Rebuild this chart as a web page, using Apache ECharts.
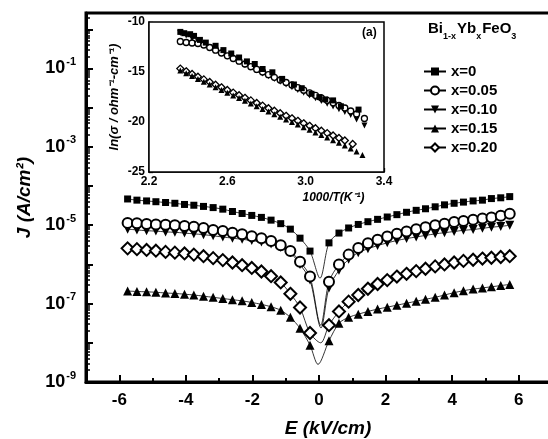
<!DOCTYPE html>
<html>
<head>
<meta charset="utf-8">
<script src="https://cdn.jsdelivr.net/npm/echarts@6/dist/echarts.min.js"></script>
<style>
  html, body { margin: 0; padding: 0; background: #fff; }
  #chart { width: 548px; height: 439px; }
</style>
</head>
<body>
<div id="chart"></div>
<script>
// field values (kV/cm), left and right branch
var eLeft = [-5.75, -5.47, -5.18, -4.9, -4.61, -4.33, -4.04, -3.76, -3.47, -3.18, -2.89, -2.6, -2.31, -2.02, -1.73, -1.44, -1.15, -0.86, -0.57, -0.27];
var eRight = [0.3, 0.6, 0.89, 1.18, 1.47, 1.76, 2.05, 2.34, 2.63, 2.92, 3.2, 3.49, 3.77, 4.06, 4.34, 4.63, 4.91, 5.18, 5.46, 5.73];

// log10 J, left branch / right branch / fit minimum [E, log10 J]
var x0Left = [-4.33, -4.36, -4.38, -4.40, -4.42, -4.44, -4.47, -4.49, -4.52, -4.55, -4.59, -4.65, -4.70, -4.75, -4.80, -4.87, -4.96, -5.10, -5.33, -5.66];
var x0Right = [-5.45, -5.2, -5.07, -4.98, -4.91, -4.85, -4.79, -4.73, -4.67, -4.62, -4.58, -4.53, -4.48, -4.44, -4.41, -4.38, -4.36, -4.32, -4.30, -4.27];
var x0Min = [0.03, -6.35];

var x05Left = [-4.94, -4.95, -4.97, -4.98, -4.99, -5.0, -5.02, -5.04, -5.07, -5.12, -5.15, -5.19, -5.23, -5.28, -5.33, -5.40, -5.51, -5.66, -5.93, -6.31];
var x05Right = [-6.44, -6.0, -5.75, -5.58, -5.46, -5.37, -5.29, -5.22, -5.16, -5.10, -5.05, -5.0, -4.96, -4.92, -4.89, -4.86, -4.83, -4.80, -4.76, -4.71];
var x05Min = [0.05, -7.55];

var x10Left = [-5.10, -5.12, -5.14, -5.15, -5.17, -5.18, -5.20, -5.22, -5.24, -5.27, -5.30, -5.33, -5.36, -5.39, -5.43, -5.48, -5.56, -5.70, -6.0, -6.40];
var x10Right = [-6.6, -6.15, -5.87, -5.7, -5.6, -5.52, -5.45, -5.39, -5.34, -5.3, -5.26, -5.22, -5.19, -5.16, -5.13, -5.11, -5.08, -5.05, -5.03, -5.0];
var x10Min = [0.06, -7.62];

var x15Left = [-6.68, -6.69, -6.70, -6.71, -6.73, -6.74, -6.76, -6.78, -6.81, -6.84, -6.87, -6.90, -6.93, -6.97, -7.02, -7.08, -7.17, -7.35, -7.63, -8.06];
var x15Right = [-7.95, -7.5, -7.35, -7.27, -7.2, -7.14, -7.09, -7.04, -6.99, -6.94, -6.89, -6.84, -6.78, -6.72, -6.67, -6.63, -6.6, -6.57, -6.54, -6.51];
var x15Min = [-0.03, -8.55];

var x20Left = [-5.59, -5.61, -5.63, -5.65, -5.68, -5.70, -5.72, -5.75, -5.79, -5.84, -5.89, -5.95, -6.02, -6.09, -6.18, -6.30, -6.46, -6.75, -7.1, -7.75];
var x20Right = [-7.55, -7.2, -6.95, -6.78, -6.62, -6.5, -6.4, -6.31, -6.24, -6.17, -6.11, -6.05, -6.0, -5.95, -5.91, -5.88, -5.85, -5.83, -5.81, -5.79];
var x20Min = [0.05, -8.0];

var seriesNames = ["x=0", "x=0.05", "x=0.10", "x=0.15", "x=0.20"];

// inset: 1000/T and ln(sigma)
var tSq = [2.36, 2.38, 2.41, 2.43, 2.46, 2.49, 2.54, 2.58, 2.62, 2.66, 2.70, 2.74, 2.78, 2.83, 2.88, 2.94, 2.98, 3.03, 3.07, 3.10, 3.14, 3.18, 3.27];
var lnSq = [-10.99, -11.12, -11.22, -11.39, -11.79, -12.06, -12.38, -12.81, -13.15, -13.55, -13.94, -14.2, -14.7, -15.03, -15.69, -16.25, -16.62, -17.18, -17.51, -17.74, -17.84, -18.43, -18.76];
var tA = [2.36, 2.39, 2.42, 2.45, 2.48, 2.51, 2.54, 2.57, 2.60, 2.63, 2.66, 2.69, 2.72, 2.75, 2.78, 2.81, 2.84, 2.87, 2.90, 2.93, 2.96, 2.99, 3.02, 3.05, 3.08, 3.11, 3.14, 3.17, 3.20, 3.23, 3.26, 3.30];
var lnCirc = [-11.95, -12.05, -12.1, -12.15, -12.3, -12.55, -12.82, -13.1, -13.38, -13.65, -13.92, -14.2, -14.47, -14.74, -15.0, -15.27, -15.53, -15.8, -16.05, -16.3, -16.57, -16.82, -17.08, -17.33, -17.58, -17.83, -18.08, -18.35, -18.6, -18.9, -19.2, -19.65];
var lnDown = [-11.1, -11.35, -11.65, -11.95, -12.25, -12.55, -12.85, -13.15, -13.45, -13.72, -14.0, -14.3, -14.58, -14.86, -15.15, -15.42, -15.7, -15.98, -16.25, -16.52, -16.8, -17.08, -17.35, -17.62, -17.9, -18.18, -18.45, -18.72, -19.0, -19.3, -19.75, -20.35];
var tUp = [2.36, 2.39, 2.42, 2.45, 2.48, 2.51, 2.54, 2.57, 2.60, 2.63, 2.66, 2.69, 2.72, 2.75, 2.78, 2.81, 2.84, 2.87, 2.90, 2.93, 2.96, 2.99, 3.02, 3.05, 3.08, 3.11, 3.14, 3.17, 3.20, 3.23, 3.26, 3.29];
var lnUp = [-14.85, -15.13, -15.41, -15.69, -15.97, -16.25, -16.53, -16.8, -17.07, -17.34, -17.61, -17.88, -18.15, -18.42, -18.69, -18.96, -19.22, -19.48, -19.74, -20.0, -20.26, -20.52, -20.78, -21.04, -21.3, -21.56, -21.82, -22.08, -22.35, -22.65, -22.95, -23.3];
var tDia = [2.36, 2.39, 2.42, 2.45, 2.48, 2.51, 2.54, 2.57, 2.60, 2.63, 2.66, 2.69, 2.72, 2.75, 2.78, 2.81, 2.84, 2.87, 2.90, 2.93, 2.96, 2.99, 3.02, 3.05, 3.08, 3.11, 3.14, 3.17, 3.20, 3.24];
var lnDia = [-14.66, -14.93, -15.2, -15.47, -15.74, -16.0, -16.27, -16.53, -16.8, -17.06, -17.32, -17.58, -17.84, -18.1, -18.36, -18.62, -18.87, -19.12, -19.38, -19.63, -19.88, -20.13, -20.38, -20.62, -20.87, -21.11, -21.35, -21.6, -21.85, -22.2];

var downTri = "path://M0,0L10,0L5,9Z";
var font = "Liberation Sans";

function branch(left, right, min) {
  var d = [];
  eLeft.forEach(function (e, i) { d.push([e, Math.pow(10, left[i])]); });
  d.push({ value: [min[0], Math.pow(10, min[1])], symbol: "none" });
  eRight.forEach(function (e, i) { d.push([e, Math.pow(10, right[i])]); });
  return d;
}
function pairs(xs, ys) {
  return xs.map(function (x, i) { return [x, ys[i]]; });
}

var markers = [
  { symbol: "rect", size: 7, fill: "#000", border: 0 },
  { symbol: "circle", size: 10, fill: "#fff", border: 2 },
  { symbol: downTri, size: 9, fill: "#000", border: 0 },
  { symbol: "triangle", size: 9, fill: "#000", border: 0 },
  { symbol: "diamond", size: 12, fill: "#fff", border: 2 }
];
var mainData = [
  branch(x0Left, x0Right, x0Min),
  branch(x05Left, x05Right, x05Min),
  branch(x10Left, x10Right, x10Min),
  branch(x15Left, x15Right, x15Min),
  branch(x20Left, x20Right, x20Min)
];
var insetData = [
  pairs(tSq, lnSq),
  pairs(tA, lnCirc),
  pairs(tA, lnDown),
  pairs(tUp, lnUp),
  pairs(tDia, lnDia)
];
var insetSize = [6, 6, 6, 6, 7];

var series = [];
seriesNames.forEach(function (name, i) {
  var m = markers[i];
  series.push({
    name: name,
    type: "line",
    xAxisIndex: 0,
    yAxisIndex: 0,
    data: mainData[i],
    symbol: m.symbol,
    symbolSize: m.size,
    showAllSymbol: true,
    smooth: 0.3,
    z: 5 - i,
    lineStyle: { color: "#000", width: 0.8 },
    itemStyle: { color: m.fill, borderColor: "#000", borderWidth: m.border },
    emphasis: { disabled: true },
    animation: false
  });
});
insetData.forEach(function (d, i) {
  var m = markers[i];
  series.push({
    name: "inset " + seriesNames[i],
    type: "scatter",
    xAxisIndex: 2,
    yAxisIndex: 1,
    data: d,
    z: 20 - i,
    symbol: m.symbol,
    symbolSize: insetSize[i],
    itemStyle: { color: m.fill, borderColor: "#000", borderWidth: m.border ? 1.3 : 0, opacity: 1 },
    emphasis: { disabled: true },
    animation: false
  });
});

var chart = echarts.init(document.getElementById("chart"));
chart.setOption({
  animation: false,
  grid: [
    { left: 86, top: 13, width: 466, bottom: 57, show: true, borderColor: "#000", borderWidth: 3, outerBoundsMode: "none" },
    { left: 149, top: 22, width: 235, height: 150, show: true, borderColor: "#000", borderWidth: 1.5, backgroundColor: "#fff", z: 8, outerBoundsMode: "none" }
  ],
  legend: {
    data: seriesNames,
    orient: "vertical",
    left: 418,
    top: 59,
    itemWidth: 22,
    itemHeight: 10,
    itemGap: 4,
    textStyle: { fontFamily: font, fontWeight: "bold", fontSize: 15, color: "#000" },
    selectedMode: false
  },
  xAxis: [
    {
      type: "value", gridIndex: 0, min: -7, max: 7, interval: 1,
      axisLine: { onZero: false, lineStyle: { color: "#000", width: 3 } },
      axisTick: { inside: true, length: 7, customValues: [-6, -4, -2, 0, 2, 4, 6], lineStyle: { color: "#000", width: 2 } },
      axisLabel: { customValues: [-6, -4, -2, 0, 2, 4, 6], margin: 10, fontFamily: font, fontWeight: "bold", fontSize: 17, color: "#000" },
      splitLine: { show: false },
      name: "E (kV/cm)", nameLocation: "middle", nameGap: 37,
      nameTextStyle: { fontFamily: font, fontWeight: "bold", fontStyle: "italic", fontSize: 19, color: "#000", padding: [0, 0, 0, 18] }
    },
    {
      type: "value", gridIndex: 0, min: -7, max: 7, position: "bottom",
      axisLine: { show: false, onZero: false },
      axisTick: { inside: true, length: 4, customValues: [-5, -3, -1, 1, 3, 5], lineStyle: { color: "#000", width: 2 } },
      axisLabel: { show: false },
      splitLine: { show: false }
    },
    {
      type: "value", gridIndex: 1, min: 2.2, max: 3.4, interval: 0.2,
      axisLine: { onZero: false, lineStyle: { color: "#000", width: 1.5 } },
      axisTick: { inside: true, length: 4, lineStyle: { color: "#000", width: 1.3 } },
      axisLabel: {
        customValues: [2.2, 2.6, 3.0, 3.4], margin: 4,
        formatter: function (v) { return v.toFixed(1); },
        fontFamily: font, fontWeight: "bold", fontSize: 12, color: "#000"
      },
      splitLine: { show: false },
      name: "1000/T(K⁻¹)", nameLocation: "middle", nameGap: 20,
      nameTextStyle: { fontFamily: font, fontWeight: "bold", fontStyle: "italic", fontSize: 12, color: "#000", padding: [0, 0, 0, 134] }
    }
  ],
  yAxis: [
    {
      type: "log", gridIndex: 0, min: 1e-9, max: 2.6, logBase: 10, interval: 1,
      axisLine: { onZero: false, lineStyle: { color: "#000", width: 3 } },
      axisTick: { inside: true, length: 7, lineStyle: { color: "#000", width: 2 } },
      minorTick: { show: true, splitNumber: 9, length: 4, lineStyle: { color: "#000", width: 1.5 } },
      axisLabel: {
        margin: 10,
        showMaxLabel: false,
        formatter: function (v) {
          var p = Math.round(Math.log10(v));
          if (Math.abs(Math.log10(v) - p) > 0.01 || p % 2 === 0) return "";
          return "{b|10}{e|" + p + "}";
        },
        rich: {
          b: { fontFamily: font, fontWeight: "bold", fontSize: 18, color: "#000", lineHeight: 24, verticalAlign: "middle" },
          e: { fontFamily: font, fontWeight: "bold", fontSize: 11, color: "#000", lineHeight: 11, verticalAlign: "top", padding: [0, 0, 0, 1] }
        }
      },
      splitLine: { show: false },
      name: "J (A/cm²)", nameLocation: "middle", nameGap: 50, nameRotate: 90,
      nameTextStyle: { fontFamily: font, fontWeight: "bold", fontStyle: "italic", fontSize: 19, color: "#000" }
    },
    {
      type: "value", gridIndex: 1, min: -25, max: -10, interval: 5,
      axisLine: { onZero: false, lineStyle: { color: "#000", width: 1.5 } },
      axisTick: { inside: true, length: 4, lineStyle: { color: "#000", width: 1.3 } },
      minorTick: { show: true, splitNumber: 2, length: 3, lineStyle: { color: "#000", width: 1.2 } },
      axisLabel: { margin: 4, fontFamily: font, fontWeight: "bold", fontSize: 12, color: "#000" },
      splitLine: { show: false },
      name: "ln(σ / ohm⁻¹-cm⁻¹)", nameLocation: "middle", nameGap: 28, nameRotate: 90,
      nameTextStyle: { fontFamily: font, fontWeight: "bold", fontStyle: "italic", fontSize: 13, color: "#000" }
    }
  ],
  graphic: [
    {
      type: "text", left: 428, top: 21, z: 10,
      style: {
        text: "{n|Bi}{s|1-x}{n|Yb}{s|x}{n|FeO}{s|3}",
        rich: {
          n: { fontFamily: font, fontWeight: "bold", fontSize: 15, fill: "#000", lineHeight: 26, verticalAlign: "middle" },
          s: { fontFamily: font, fontWeight: "bold", fontSize: 9, fill: "#000", lineHeight: 10, verticalAlign: "bottom", padding: [0, 1, 0, 0] }
        }
      }
    },
    {
      type: "text", left: 362, top: 27, z: 10,
      style: { text: "(a)", fontFamily: font, fontWeight: "bold", fontSize: 12, fill: "#000" }
    }
  ],
  series: series
});
</script>
</body>
</html>
